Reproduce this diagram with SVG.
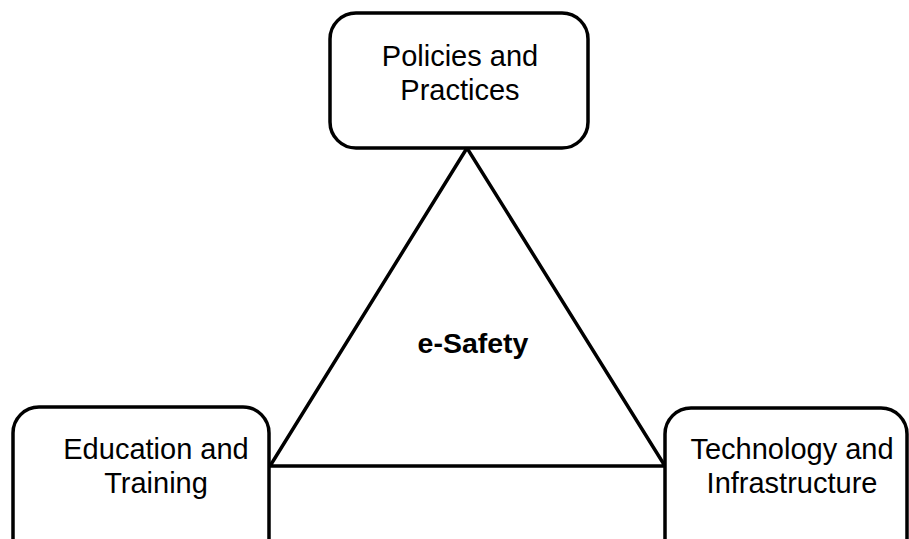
<svg xmlns="http://www.w3.org/2000/svg" width="909" height="539" viewBox="0 0 909 539">
<style>
.box{fill:#fff;stroke:#000;stroke-width:3.5}
.lbl{font-family:"Liberation Sans",Arial,sans-serif;font-size:29px;fill:#000;text-anchor:middle}
.edge{fill:none;stroke:#000;stroke-width:3.5;stroke-linejoin:miter}
</style>
<rect width="909" height="539" fill="#fff"/>
<g id="connectors">
<polygon class="edge" points="467,148 270,466 665,466"/>
</g>
<g id="center">
<text class="lbl" x="473" y="353" font-weight="bold" style="font-size:28.5px">e-Safety</text>
</g>
<g id="policies">
<rect class="box" x="330" y="13" width="258" height="135" rx="26"/>
<text class="lbl" x="460" y="66">Policies and</text>
<text class="lbl" x="460" y="100">Practices</text>
</g>
<g id="education">
<rect class="box" x="13" y="407" width="256" height="160" rx="26"/>
<text class="lbl" x="156" y="459">Education and</text>
<text class="lbl" x="156" y="493">Training</text>
</g>
<g id="technology">
<rect class="box" x="665" y="408" width="242" height="160" rx="26"/>
<text class="lbl" x="792" y="459">Technology and</text>
<text class="lbl" x="792" y="493">Infrastructure</text>
</g>
</svg>
